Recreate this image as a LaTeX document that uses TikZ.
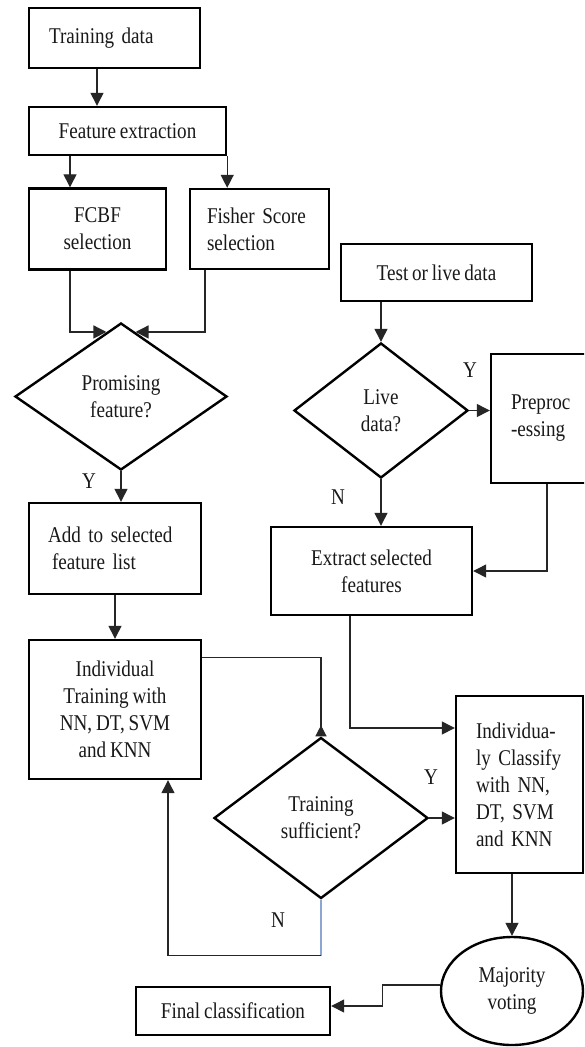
\documentclass[tikz,border=0pt]{standalone}
\usepackage{fontspec}
\newfontfamily\ff[FakeStretch=0.85,WordSpace=0.8]{Liberation Serif}
\usetikzlibrary{arrows.meta,shapes.geometric,calc}
\definecolor{nblue}{RGB}{140,165,210}
\begin{document}
\begin{tikzpicture}[x=1pt,y=-1pt,
  txt/.style={font=\ff\fontsize{22.5}{27}\selectfont, text=black!90},
  box/.style={txt, draw=black, line width=2.4pt, inner sep=0pt, align=center},
  lbox/.style={box, align=left},
  dia/.style={box, diamond},
  lab/.style={txt, inner sep=0pt},
  conn/.style={line width=1.3pt, draw=black!85},
  arr/.style={conn, -{Triangle[length=13pt,width=13pt]}},
]
\clip (0,0) rectangle (584,1047);
\fill[white] (0,0) rectangle (584,1047);

% left column
\node[lbox, text width=131pt, inner xsep=20pt, minimum height=60pt] (train) at (114.5,38) {Training data};
\node[box, minimum width=197pt, minimum height=48pt] (feat) at (127.5,131) {Feature extraction};
\node[box, minimum width=137pt, minimum height=81pt] (fcbf) at (97.5,229) {FCBF\\selection};
\node[lbox, text width=105pt, inner xsep=17pt, minimum height=80pt] (fisher) at (259.5,229) {Fisher Score\\selection};
\node[dia, minimum width=212pt, minimum height=147pt] (prom) at (121,396.5) {Promising\\feature?};
\node[lbox, text width=134pt, inner xsep=19pt, minimum height=91pt] (add) at (115,548.5) {Add to selected\\\hspace*{4pt}feature list};
\node[box, minimum width=172pt, minimum height=139pt] (indtr) at (115,709.5) {Individual\\Training with\\NN, DT, SVM\\and KNN};
\node[dia, minimum width=214pt, minimum height=161pt] (ts) at (321,818) {Training\\sufficient?};

% right column
\node[box, minimum width=191pt, minimum height=57pt] (test) at (436.5,272.5) {Test or live data};
\node[dia, minimum width=174pt, minimum height=135pt] (live) at (381,410.5) {Live\\data?};
\node[lbox, text width=69pt, inner xsep=20pt, minimum height=129pt] (prep) at (545.5,418.5) {Preproc\\-essing};
\node[box, minimum width=201pt, minimum height=88pt] (extract) at (371.5,571) {Extract selected\\features};
\node[lbox, text width=87pt, inner xsep=20pt, minimum height=177pt] (indcl) at (519.5,784.5) {Individua-\\ly Classify\\with NN,\\DT, SVM\\and KNN};
\node[box, ellipse, minimum width=142pt, minimum height=108pt] (maj) at (512,991) {Majority\\voting};
\node[box, minimum width=194pt, minimum height=48pt] (final) at (233,1011) {Final classification};

% labels
\node[lab] (ly1) at (89,481) {Y};
\node[lab] (ly2) at (470,370) {Y};
\node[lab] (ln2) at (338,497) {N};
\node[lab] (ly3) at (431,777) {Y};
\node[lab] (ln3) at (278,920) {N};

% connectors
\draw[arr] ($(train.south)+(-17.5,0)$) coordinate (t1) -- (t1 |- feat.north);
\draw[arr] ($(feat.south)+(-57.5,0)$) coordinate (t2) -- (t2 |- fcbf.north);
\draw[arr] (feat.south east) -- (feat.south east |- fisher.north);
\draw[arr] ($(fcbf.south)+(-27.5,0)$) |- ($(prom.north)!0.136!(prom.west)$);
\draw[arr] ($(fisher.south)+(-54.5,0)$) |- ($(prom.north)!0.136!(prom.east)$);
\draw[arr] (prom.south) -- (prom.south |- add.north);
\draw[arr] (add.south) -- (indtr.north);
\draw[conn, -{Triangle[reversed,length=11pt,width=11pt]}] ($(indtr.north east)+(0,19)$) -| (ts.north);
\draw[arr] (ts.east) -- (ts.east -| indcl.west);
\draw[conn, draw=nblue] (ts.south) -- ++(0,56) coordinate (t3);
\draw[arr] (t3) -| ($(indtr.south)+(53,0)$);

\draw[arr] (test.south -| live.north) -- (live.north);
\draw[arr] (live.east) -- (live.east -| prep.west);
\draw[arr] (live.south) -- (live.south |- extract.north);
\draw[arr] ($(prep.south)+(1.5,0)$) |- (extract.east);
\draw[arr] ($(extract.south)+(-21.5,0)$) |- ($(indcl.west)+(0,-56.5)$);
\draw[arr] (indcl.south -| maj.north) -- (maj.north);
\draw[arr] ($(maj.west)+(0,-6)$) -- ++(-57,0) |- ($(final.east)+(0,-5)$);
\end{tikzpicture}
\end{document}
